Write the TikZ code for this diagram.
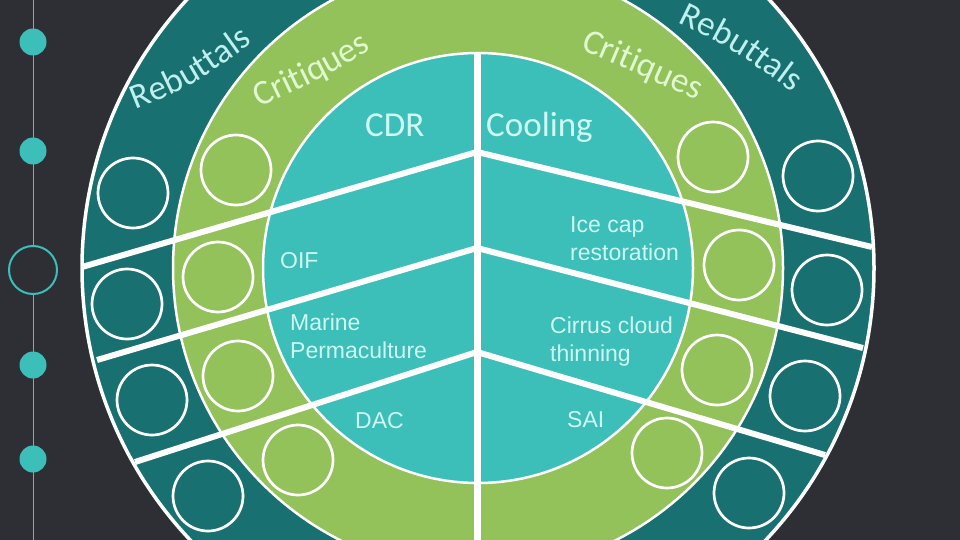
\documentclass[tikz,border=0pt]{standalone}
\usepackage{fontspec}
\setmainfont{Liberation Sans}
\newfontfamily\calfont{Carlito}
\usetikzlibrary{decorations.text}
\definecolor{bgcol}{HTML}{2E2F34}
\definecolor{ringdark}{HTML}{187070}
\definecolor{ringgreen}{HTML}{93C15A}
\definecolor{ringteal}{HTML}{3CBFB9}
\definecolor{dotcol}{HTML}{3CBFB9}
\definecolor{tealtext}{HTML}{D0F9F4}
\definecolor{greentext}{HTML}{E0F8CF}
\definecolor{rebtext}{HTML}{BDF0EE}
\newcommand\curvefont{\calfont\fontsize{35}{40}\selectfont}
\begin{document}
\begin{tikzpicture}[x=1pt,y=-1pt,
	bub/.style={draw=white,circle,line width=2.7pt,minimum size=70pt,inner sep=0pt},
	split/.style={draw=white,line width=6pt},
	dot/.style={circle,fill=dotcol,minimum size=27pt,inner sep=0pt},
	lbl/.style={anchor=base west,inner sep=0pt,text=tealtext,align=left,font=\fontsize{23}{28}\selectfont},
	head/.style={anchor=base west,inner sep=0pt,text=tealtext,font=\curvefont}]
			\useasboundingbox (0,0) rectangle (960,540);
			\fill[bgcol] (0,0) rectangle (960,540);
			\clip (0,0) rectangle (960,540);
			% time line
			\coordinate (ttop) at (33,0);
			\coordinate (tbot) at (33,540);
			\draw[gray!75,line width=1pt] (ttop)--(tbot);
			\node[dot] (d1) at (33,42) {};
			\node[dot] (d2) at (33,151) {};
			\node[draw=dotcol,circle,line width=2pt,fill=bgcol,minimum size=48pt] (d3) at (33,270) {};
			\node[dot] (d4) at (33,365) {};
			\node[dot] (d5) at (33,459) {};
			% rings
			\coordinate (c) at (478,268);
			\filldraw[fill=ringdark,draw=white,line width=3.5pt] (c) circle (396pt);
			\filldraw[fill=ringgreen,draw=white,line width=2.5pt] (c) circle (305pt);
			\filldraw[fill=ringteal,draw=white,line width=2.5pt] (c) circle (215pt);
			% chevrons
			\coordinate (l1) at (82,267);
			\coordinate (l2) at (97,360);
			\coordinate (l3) at (135,462);
			\coordinate (m1) at (477,152);
			\coordinate (m2) at (477,248);
			\coordinate (m3) at (477,352);
			\coordinate (r1) at (872,247);
			\coordinate (r2) at (863,348);
			\coordinate (r3) at (825,455);
			\draw[split](l1)--(m1);
			\draw[split](l2)--(m2);
			\draw[split](l3)--(m3);
			\draw[split](m1)--(r1);
			\draw[split](m2)--(r2);
			\draw[split](m3)--(r3);
			\coordinate (vtop) at (477,53);
			\coordinate (vbot) at (477,540);
			\draw[white,line width=7pt](vtop)--(vbot);
			% bubbles
			\node[bub] (ld1) at (133,193) {};
			\node[bub] (ld2) at (127,304) {};
			\node[bub] (ld3) at (152,400) {};
			\node[bub] (ld4) at (208,496) {};
			\node[bub] (lg1) at (236,170) {};
			\node[bub] (lg2) at (218,277) {};
			\node[bub] (lg3) at (238,376) {};
			\node[bub] (lg4) at (298,460) {};
			\node[bub] (rg1) at (713,157) {};
			\node[bub] (rg2) at (739,265) {};
			\node[bub] (rg3) at (717,370) {};
			\node[bub] (rg4) at (667,453) {};
			\node[bub] (rd1) at (818,176) {};
			\node[bub] (rd2) at (827,290) {};
			\node[bub] (rd3) at (805,396) {};
			\node[bub] (rd4) at (749,493) {};
			% labels (multi-line ones sit on their last baseline)
			\node[head] (cdr) at (365,137) {CDR};
			\node[head] (cool) at (486,137) {Cooling};
			\node[lbl] (oif) at (280,268) {OIF};
			\node[lbl] (marine) at (290,358) {Marine\\Permaculture};
			\node[lbl] (dac) at (355,428) {DAC};
			\node[lbl] (ice) at (570,260) {Ice cap\\restoration};
			\node[lbl] (cirrus) at (550,361) {Cirrus cloud\\thinning};
			\node[lbl] (sai) at (567,427) {SAI};
			% arched titles
			\coordinate (rebL0) at (131,111);
			\coordinate (rebL1) at (191,87);
			\coordinate (rebL2) at (257,40);
			\coordinate (criL0) at (255,110);
			\coordinate (criL1) at (329,75);
			\coordinate (criL2) at (376,47);
			\coordinate (criR0) at (579,49);
			\coordinate (criR1) at (638,74);
			\coordinate (criR2) at (698,101);
			\coordinate (rebR0) at (677,22);
			\coordinate (rebR1) at (736,51);
			\coordinate (rebR2) at (793,93);
			\path[decorate,decoration={text along path,text align=center,text={|\curvefont\color{rebtext}|Rebuttals}}] (rebL0) .. controls (rebL1) .. (rebL2);
			\path[decorate,decoration={text along path,text align=center,text={|\curvefont\color{greentext}|Critiques}}] (criL0) .. controls (criL1) .. (criL2);
			\path[decorate,decoration={text along path,text align=center,text={|\curvefont\color{greentext}|Critiques}}] (criR0) .. controls (criR1) .. (criR2);
			\path[decorate,decoration={text along path,text align=center,text={|\curvefont\color{rebtext}|Rebuttals}}] (rebR0) .. controls (rebR1) .. (rebR2);
		\end{tikzpicture}
\end{document}
